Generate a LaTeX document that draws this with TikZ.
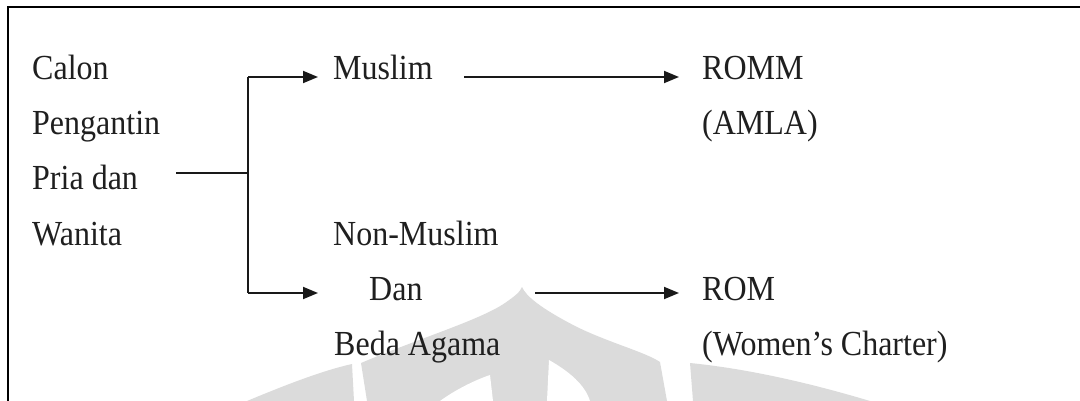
\documentclass[tikz,border=0pt]{standalone}
\usepackage{fontspec}
\usepackage{graphicx}
\setmainfont{Liberation Serif}
\usetikzlibrary{arrows.meta}
\newcommand{\tall}[1]{\scalebox{1}[1.1]{#1}}
\begin{document}
\begin{tikzpicture}[x=1pt,y=-1pt,
  lbl/.style={anchor=base west,inner sep=0pt,text=black!88,font=\fontsize{32}{38}\selectfont},
  conn/.style={line width=1.8pt,black!90},
  arr/.style={conn,-{Triangle[length=15pt,width=12pt]}},
  wm/.style={fill=black!14,draw=none}]
\useasboundingbox (0,0) rectangle (1080,401);
% watermark (faint)
\fill[wm] (247,401) .. controls (290,383) and (325,370) .. (352,364) -- (354,401) -- cycle;
\fill[wm] (367,401) -- (361,363) .. controls (420,338) and (480,320) .. (505,303)
  .. controls (515,296) and (520,292) .. (522,287)
  .. controls (526,296) and (540,308) .. (577,327)
  .. controls (610,343) and (645,352) .. (660,362) -- (667,401) -- cycle;
\fill[white] (440,401) .. controls (455,390) and (475,380) .. (490,375) -- (493,401) -- cycle;
\fill[white] (547,401) -- (549,360) .. controls (570,372) and (585,385) .. (590,401) -- cycle;
\fill[wm] (693,401) -- (690,363) .. controls (740,368) and (800,380) .. (870,401) -- cycle;
% frame
\draw[line width=2pt] (8,401) -- (8,7) -- (1080,7);
% texts
\node[lbl] (calon) at (32,80) {\tall{Calon}};
\node[lbl] (peng) at (32,135) {\tall{Pengantin}};
\node[lbl] (pria) at (32,190) {\tall{Pria dan}};
\node[lbl] (wanita) at (32,245) {\tall{Wanita}};
\node[lbl] (muslim) at (333,80) {\tall{Muslim}};
\node[lbl] (nonm) at (333,245) {\tall{Non-Muslim}};
\node[lbl] (dan) at (369,300) {\tall{Dan}};
\node[lbl] (beda) at (334,355) {\tall{Beda Agama}};
\node[lbl] (romm) at (702,80) {\tall{ROMM}};
\node[lbl] (amla) at (702,135) {\tall{(AMLA)}};
\node[lbl] (rom) at (702,300) {\tall{ROM}};
\node[lbl] (wc) at (702,355) {\tall{(Women’s Charter)}};
% connector points
\coordinate (src) at (176,173);
\coordinate (jn) at (248,173);
\coordinate (jtop) at (248,77);
\coordinate (jbot) at (248,293);
\coordinate (tomus) at (318,77);
\coordinate (todan) at (318,293);
\coordinate (mus1) at (464,77);
\coordinate (toromm) at (679,77);
\coordinate (dan1) at (535,293);
\coordinate (torom) at (679,293);
% connectors
\draw[conn] (src) -- (jn);
\draw[conn] (jtop) -- (jbot);
\draw[arr] (jtop) -- (tomus);
\draw[arr] (jbot) -- (todan);
\draw[arr] (mus1) -- (toromm);
\draw[arr] (dan1) -- (torom);
\end{tikzpicture}
\end{document}
